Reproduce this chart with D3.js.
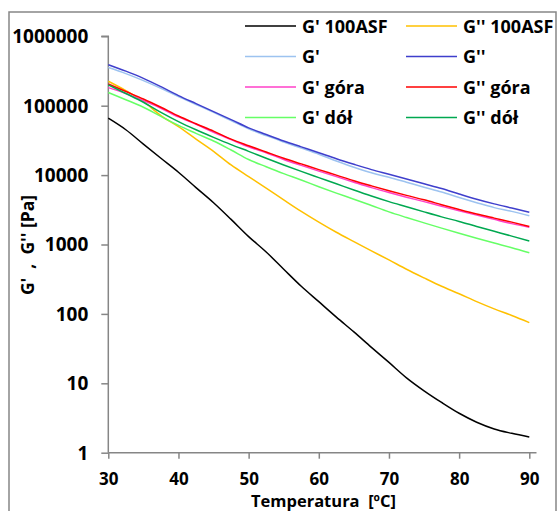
<!DOCTYPE html>
<html><head><meta charset="utf-8">
<script src="https://cdn.jsdelivr.net/npm/d3@7"></script>
<style>body{margin:0;background:#fff}svg{display:block}text{font-family:"Open Sans",sans-serif;font-weight:bold;fill:#000}</style>
</head><body><div id="chart"></div>
<script>
const temps = [30,32.5,35,37.5,40,42.5,45,47.5,50,52.5,55,57.5,60,62.5,65,67.5,70,72.5,75,77.5,80,82.5,85,87.5,90];
const gp100 = [66000,45000,28000,17500,11000,6600,4000,2300,1300,780,440,250,150,90,55,33,20,12,7.8,5.3,3.7,2.75,2.2,1.9,1.68];
const gpp100 = [225000,165000,115000,72000,50000,33000,22000,14000,9500,6500,4400,3000,2100,1500,1100,810,600,440,330,250,195,150,118,95,75];
const gpAll = [355000,290000,230000,178000,135000,104000,80000,61000,46500,37000,30000,24500,20000,16000,13000,10800,9300,7900,6700,5700,4750,4000,3400,3000,2600];
const gppAll = [390000,315000,248000,188000,140000,107000,82000,63000,48000,38500,31000,25500,21000,17200,14300,12000,10300,8800,7500,6400,5350,4500,3850,3350,2920];
const gpTop = [182000,150000,118000,92000,69000,54000,41500,32500,25500,21000,16800,13800,11400,9500,7900,6600,5600,4800,4150,3550,3050,2650,2300,2000,1770];
const gppTop = [205000,160000,125000,95000,71000,55000,43000,33000,26500,21500,17500,14500,12000,10000,8300,7000,5950,5100,4400,3750,3200,2750,2400,2100,1820];
const gpBot = [155000,122000,95000,70000,52000,40000,31000,23000,16800,13200,10500,8500,6800,5500,4500,3650,2950,2450,2050,1720,1450,1230,1050,900,760];
const gppBot = [200000,150000,112000,80000,59000,45000,35000,27500,22000,17500,14000,11300,9200,7500,6100,5000,4150,3500,2950,2500,2150,1820,1550,1320,1120];
const seriesNames = ["G' 100ASF","G'' 100ASF","G'","G''","G' góra","G'' góra","G' dół","G'' dół"];
const seriesData = [gp100,gpp100,gpAll,gppAll,gpTop,gppTop,gpBot,gppBot];
const seriesColors = ["#000000","#FFC000","#9DC3F0","#3F3FCC","#FF40C8","#FF0000","#66FF66","#00A850"];
const yTicks = [1,10,100,1000,10000,100000,1000000];
const xTicks = [30,40,50,60,70,80,90];

const W=559,H=511;
const svg=d3.select("#chart").append("svg").attr("width",W).attr("height",H);
svg.append("rect").attr("x",9).attr("y",12).attr("width",547).attr("height",520)
  .attr("fill","#fff").attr("stroke","#868686").attr("stroke-width",1.5);

const x=d3.scaleLinear().domain([30,90]).range([108.3,529.3]);
const y=d3.scaleLog().domain([1,1000000]).range([452.7,36.3]);
const grey="#868686";
const tickFont="Liberation Sans";

// y axis
const ya=svg.append("g").attr("transform","translate(108.3,0)")
  .call(d3.axisLeft(y).tickValues(yTicks).tickFormat(d3.format("d")).tickSize(7).tickPadding(13));
ya.select(".domain").attr("stroke",grey).attr("stroke-width",1.5).attr("d","M-7,36.3H0V452.7");
ya.selectAll(".tick line").attr("stroke",grey).attr("stroke-width",1.5);
ya.selectAll(".tick text").attr("font-size",19).attr("font-family",tickFont).attr("font-weight","bold")
  .attr("fill","#000").attr("dy","0.34em");

// x axis
const xa=svg.append("g").attr("transform","translate(0,452.7)")
  .call(d3.axisBottom(x).tickValues(xTicks).tickFormat(d3.format("d")).tickSize(6).tickPadding(14));
xa.select(".domain").attr("stroke",grey).attr("stroke-width",1.5).attr("d","M108.3,0H536.5");
xa.selectAll(".tick line").attr("stroke",grey).attr("stroke-width",1.5);
xa.selectAll(".tick text").attr("font-size",17).attr("font-family",tickFont).attr("font-weight","bold")
  .attr("fill","#000").attr("y",32.8).attr("dy",0);

// lines
const line=d3.line().x((d,i)=>x(temps[i])).y(d=>y(d)).curve(d3.curveMonotoneX);
seriesData.forEach((s,k)=>{
  svg.append("path").datum(s).attr("d",line).attr("fill","none")
    .attr("stroke",seriesColors[k]).attr("stroke-width",1.5);
});

// legend
const lx=[245,406], ly=[26,56.5,87,117.5];
seriesNames.forEach((n,k)=>{
  const col=k%2,row=Math.floor(k/2);
  const g=svg.append("g").attr("transform",`translate(${lx[col]},${ly[row]})`);
  g.append("line").attr("x1",0).attr("x2",51).attr("y1",0).attr("y2",0)
    .attr("stroke",seriesColors[k]).attr("stroke-width",1.5);
  g.append("text").attr("x",57).attr("y",6.5).attr("font-size",18).text(n);
});

// axis titles
svg.append("text").attr("x",323.5).attr("y",507).attr("text-anchor","middle").attr("font-size",16.5)
  .attr("font-family","Liberation Sans")
  .attr("xml:space","preserve").style("white-space","pre")
  .text("Temperatura  [ºC]");
svg.append("text").attr("transform","translate(34,245) rotate(-90)").attr("text-anchor","middle").attr("font-size",17.5)
  .attr("xml:space","preserve").style("white-space","pre")
  .text("G'  ,  G'' [Pa]");
</script></body></html>
